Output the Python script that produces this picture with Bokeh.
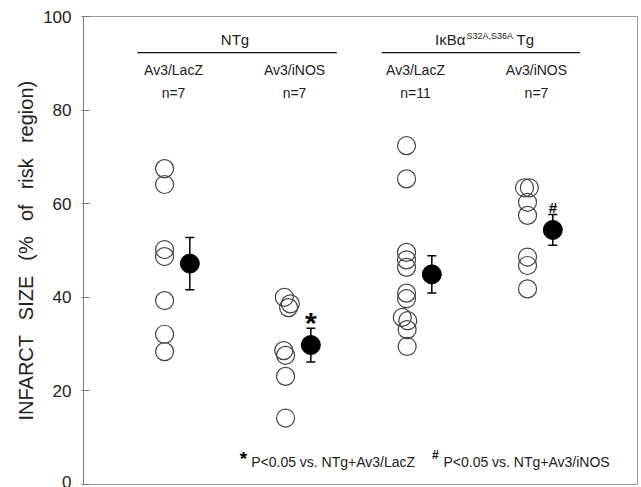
from bokeh.plotting import figure
from bokeh.models import ColumnDataSource, Whisker, FixedTicker, Range1d, TeeHead
from bokeh.core.properties import value
from bokeh.embed import file_html
from bokeh.resources import INLINE

FONT = "Liberation Sans"

# ---------------- data ----------------
group_pos = [1, 2, 3, 4]
group_names = ["Av3/LacZ", "Av3/iNOS", "Av3/LacZ", "Av3/iNOS"]
n_labels = ["n=7", "n=7", "n=11", "n=7"]

ntg_lacz = [67.5, 64.1, 50.2, 48.7, 39.3, 32.1, 28.4]
ntg_inos = [40.0, 38.6, 37.8, 28.6, 27.6, 23.1, 14.2]
tg_lacz = [72.4, 65.3, 49.6, 48.0, 46.4, 40.9, 39.7, 35.7, 35.0, 33.1, 29.5]
tg_inos = [63.4, 63.4, 60.3, 57.5, 48.6, 46.8, 41.8]

# small horizontal jitter of the individual points (axis units)
jit_ntg_lacz = [0, 0, 0, 0, 0, 0, 0]
jit_ntg_inos = [-0.01, 0.04, 0.025, -0.015, 0.0, 0, 0]
jit_tg_lacz = [0, 0, 0, 0, 0, 0, 0, -0.035, 0.01, 0.005, 0.005]
jit_tg_inos = [-0.025, 0.015, 0, 0, 0, 0, 0]

means = [47.2, 29.8, 44.9, 54.4]
sem = [5.6, 3.6, 4.0, 3.3]

y_ticks = [0, 20, 40, 60, 80, 100]

# ---------------- figure ----------------
p = figure(width=640, height=487,
           x_range=Range1d(0.256, 4.835), y_range=Range1d(0, 100),
           x_axis_location=None,
           output_backend="svg", toolbar_location=None,
           min_border_left=83, min_border_right=3,
           min_border_top=16, min_border_bottom=3)
p.grid.visible = False
p.outline_line_color = "#9a9a9a"
p.outline_line_width = 1
p.background_fill_color = "white"
p.border_fill_color = "white"

ax = p.yaxis[0]
ax.ticker = FixedTicker(ticks=y_ticks)
ax.major_label_text_font = FONT
ax.major_label_text_font_size = "17px"
ax.major_label_text_color = "#222222"
ax.axis_line_color = "#7a7a7a"
ax.major_tick_line_color = "#7a7a7a"
ax.major_tick_in = 6
ax.major_tick_out = 2
ax.minor_tick_line_color = None
ax.major_label_standoff = 10
gap = " \u00a0\u2009"
ax.axis_label = gap.join(["INFARCT", "SIZE", "(%", "of", "risk", "region)"])
ax.axis_label_text_font = FONT
ax.axis_label_text_font_size = "20px"
ax.axis_label_text_font_style = "normal"
ax.axis_label_text_color = "#222222"
ax.axis_label_standoff = 3

# ---------------- individual points ----------------
sets = [(ntg_lacz, jit_ntg_lacz), (ntg_inos, jit_ntg_inos),
        (tg_lacz, jit_tg_lacz), (tg_inos, jit_tg_inos)]
pts_x, pts_y = [], []
for g, (vals, jit) in zip(group_pos, sets):
    for v, j in zip(vals, jit):
        pts_x.append(g - 0.074 + j)
        pts_y.append(v)
p.scatter(pts_x, pts_y, marker="circle", size=18, fill_color=None,
          line_color="#454545", line_width=1.2)

# ---------------- means +/- SEM ----------------
mx = [g + 0.135 for g in group_pos]
src = ColumnDataSource(dict(x=mx, y=means,
                            lo=[m - s for m, s in zip(means, sem)],
                            hi=[m + s for m, s in zip(means, sem)]))
wh = Whisker(source=src, base="x", lower="lo", upper="hi",
             line_color="black", line_width=1.5,
             upper_head=TeeHead(size=9, line_color="black", line_width=1.5),
             lower_head=TeeHead(size=9, line_color="black", line_width=1.5))
p.add_layout(wh)
p.scatter("x", "y", source=src, marker="circle", size=19,
          fill_color="black", line_color="black")

# ---------------- header labels ----------------
p.text(group_pos, [88.5] * 4, text=group_names, text_font=value(FONT),
       text_font_size="14px", text_align="center", text_baseline="middle",
       text_color="#222222")
p.text(group_pos, [83.7] * 4, text=n_labels, text_font=value(FONT),
       text_font_size="14px", text_align="center", text_baseline="middle",
       text_color="#222222")

br_x0 = [0.70, 2.72]
br_x1 = [2.35, 4.36]
br_y = [92.3, 92.3]
p.segment(br_x0, br_y, br_x1, br_y, line_color="#111111", line_width=1.3)

p.text([1.508], [95.0], text=["NTg"], text_font=value(FONT),
       text_font_size="15px", text_align="center", text_baseline="middle",
       text_color="#222222")
p.text([3.413], [95.0], text=["I\u03baB\u03b1"], text_font=value(FONT),
       text_font_size="15px", text_align="right", text_baseline="middle",
       text_color="#222222")
p.text([3.421], [95.9], text=["S32A,S36A"], text_font=value(FONT),
       text_font_size="9px", text_align="left", text_baseline="middle",
       text_color="#222222")
p.text([3.835], [95.0], text=["Tg"], text_font=value(FONT),
       text_font_size="15px", text_align="left", text_baseline="middle",
       text_color="#222222")

# ---------------- significance marks ----------------
p.text([2.135], [34.6], text=["*"], text_font=value(FONT),
       text_font_size="30px", text_font_style="bold", text_align="center",
       text_baseline="alphabetic", text_color="black")
p.text([4.135], [59.2], text=["#"], text_font=value(FONT),
       text_font_size="15px", text_font_style="bold", text_align="center",
       text_baseline="alphabetic", text_color="black")

# ---------------- footnotes ----------------
p.text([1.579], [5.6], text=["*"], text_font=value(FONT),
       text_font_size="19px", text_font_style="bold", text_align="center",
       text_baseline="alphabetic", text_color="black")
p.text([1.642], [4.75], text=["P<0.05 vs. NTg+Av3/LacZ"], text_font=value(FONT),
       text_font_size="14px", text_align="left", text_baseline="alphabetic",
       text_color="#222222")
p.text([3.165], [6.4], text=["#"], text_font=value(FONT),
       text_font_size="12px", text_font_style="bold", text_align="center",
       text_baseline="alphabetic", text_color="black")
p.text([3.231], [4.75], text=["P<0.05 vs. NTg+Av3/iNOS"], text_font=value(FONT),
       text_font_size="14px", text_align="left", text_baseline="alphabetic",
       text_color="#222222")

open("out.html", "w").write(file_html(p, INLINE))
